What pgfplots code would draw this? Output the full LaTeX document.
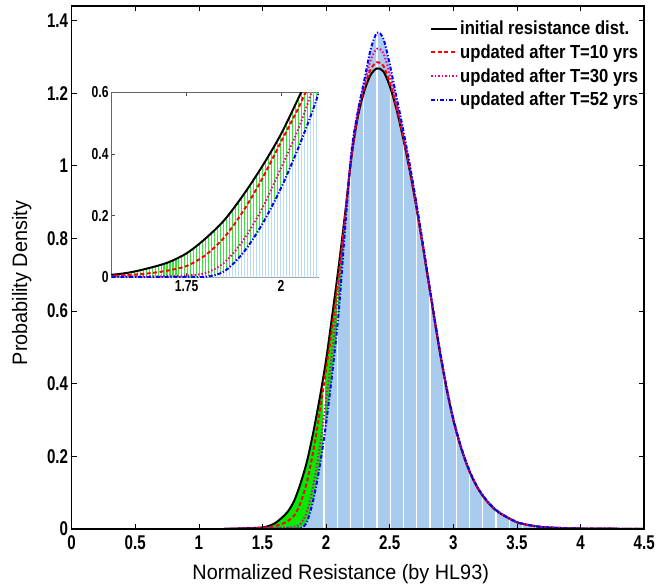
\documentclass[border=0pt]{standalone}
\usepackage{pgfplots}
\pgfplotsset{compat=1.18}
\usepackage{pgfplotstable}
\usetikzlibrary{patterns.meta}
\usepackage{fontspec}
\setmainfont{Liberation Sans}
\newfontfamily\narrowfont[FakeStretch=0.76]{Liberation Sans}
\newfontfamily\legfont[FakeStretch=0.88]{Liberation Sans}
\newfontfamily\labelfont[FakeStretch=0.95]{Liberation Sans}
\definecolor{histblue}{RGB}{169,203,238}
\definecolor{ggreen}{RGB}{0,235,0}
\definecolor{paleblue}{RGB}{185,220,248}
\definecolor{ilgreen}{RGB}{60,225,60}

\pgfplotstableread{
x y
1.20 0.000
1.30 0.001
1.40 0.002
1.50 0.004
1.55 0.008
1.60 0.016
1.65 0.030
1.70 0.048
1.75 0.078
1.80 0.126
1.85 0.186
1.90 0.267
1.95 0.360
2.00 0.465
2.05 0.592
2.10 0.725
2.15 0.870
2.20 1.025
2.25 1.135
2.30 1.205
2.35 1.250
2.40 1.268
2.45 1.260
2.50 1.220
2.55 1.160
2.60 1.085
2.65 1.000
2.70 0.905
2.75 0.800
2.80 0.690
2.85 0.580
2.90 0.475
2.95 0.380
3.00 0.300
3.05 0.235
3.10 0.182
3.15 0.140
3.20 0.107
3.25 0.082
3.30 0.062
3.35 0.047
3.40 0.036
3.50 0.018
3.60 0.010
3.70 0.005
3.80 0.003
4.00 0.001
4.50 0.000
}\blackdata

\pgfplotstableread{
x y
1.20 0.000
1.40 0.001
1.50 0.003
1.55 0.005
1.60 0.008
1.65 0.013
1.70 0.022
1.75 0.037
1.80 0.072
1.85 0.130
1.90 0.215
1.95 0.320
2.00 0.440
2.05 0.560
2.10 0.700
2.15 0.860
2.20 1.028
2.25 1.142
2.30 1.215
2.35 1.265
2.40 1.285
2.45 1.275
2.50 1.230
2.55 1.167
2.60 1.090
2.65 1.004
2.70 0.908
2.75 0.802
2.80 0.692
2.85 0.582
2.90 0.477
2.95 0.381
3.00 0.301
3.05 0.236
3.10 0.183
3.15 0.141
3.20 0.108
3.25 0.083
3.30 0.063
3.35 0.048
3.40 0.036
3.50 0.018
3.60 0.010
3.70 0.005
3.80 0.003
4.00 0.001
4.50 0.000
}\reddata

\pgfplotstableread{
x y
1.20 0.000
1.50 0.002
1.55 0.003
1.60 0.003
1.65 0.003
1.70 0.004
1.75 0.006
1.80 0.014
1.85 0.048
1.90 0.120
1.95 0.224
2.00 0.355
2.05 0.495
2.10 0.670
2.15 0.855
2.20 1.032
2.25 1.150
2.30 1.225
2.35 1.290
2.40 1.322
2.45 1.310
2.50 1.252
2.55 1.178
2.60 1.098
2.65 1.010
2.70 0.912
2.75 0.805
2.80 0.695
2.85 0.584
2.90 0.479
2.95 0.383
3.00 0.302
3.05 0.237
3.10 0.184
3.15 0.142
3.20 0.109
3.25 0.083
3.30 0.063
3.35 0.048
3.40 0.037
3.50 0.019
3.60 0.010
3.70 0.005
3.80 0.003
4.00 0.001
4.50 0.000
}\magdata

\pgfplotstableread{
x y
1.20 0.000
1.55 0.001
1.70 0.001
1.80 0.002
1.85 0.020
1.90 0.080
1.95 0.172
2.00 0.290
2.05 0.433
2.10 0.600
2.15 0.830
2.20 1.040
2.25 1.150
2.30 1.235
2.35 1.320
2.40 1.366
2.45 1.350
2.50 1.280
2.55 1.195
2.60 1.110
2.65 1.018
2.70 0.918
2.75 0.810
2.80 0.698
2.85 0.586
2.90 0.481
2.95 0.385
3.00 0.304
3.05 0.238
3.10 0.185
3.15 0.142
3.20 0.109
3.25 0.084
3.30 0.064
3.35 0.048
3.40 0.037
3.50 0.019
3.60 0.010
3.70 0.005
3.80 0.003
4.00 0.001
4.50 0.000
}\bluedata

\pgfplotstableread{
x y
1.984 1.44
2.088 1.44
2.192 1.44
2.296 1.44
2.400 1.44
2.504 1.44
2.608 1.44
2.712 1.44
2.816 1.44
2.920 1.44
3.024 1.44
3.128 1.44
3.232 1.44
3.336 1.44
3.440 1.44
3.544 1.44
3.648 1.44
3.752 1.44
}\gapdata

\begin{document}
\begin{tikzpicture}
\begin{axis}[
  name=main, at={(0,0)}, anchor=south west,
  width=576pt, height=526pt, scale only axis,
  xmin=0, xmax=4.5, ymin=0, ymax=1.44,
  xtick={0,0.5,1,1.5,2,2.5,3,3.5,4,4.5},
  ytick={0,0.2,0.4,0.6,0.8,1,1.2,1.4},
  tick align=inside, tick pos=both,
  major tick length=5pt,
  axis on top,
  axis line style={line width=1.5pt},
  tick style={black, line width=0.6pt},
  /pgf/number format/assume math mode=true,
  ticklabel style={font=\narrowfont\bfseries\fontsize{20}{20}\selectfont},
  xticklabel style={yshift=-3pt},
  xlabel={Normalized Resistance (by HL93)},
  ylabel={Probability Density},
  xlabel style={font=\labelfont\fontsize{21}{21}\selectfont, at={(axis description cs:0.47,-0.086)}, anchor=center},
  ylabel style={font=\labelfont\fontsize{21}{21}\selectfont, at={(axis description cs:-0.087,0.47)}, anchor=center},
  legend style={at={(1,1)}, anchor=north east, xshift=-3pt, yshift=-12pt, draw=none, fill=none,
    font=\legfont\bfseries\fontsize{19}{19}\selectfont, row sep=4.5pt, inner sep=1pt},
  legend cell align=left,
  legend image code/.code={\draw[#1] (0pt,0pt) -- (26pt,0pt);},
]
\addplot[forget plot, draw=none, fill=ggreen, restrict x to domain=1.2:2.3] table {\blackdata} \closedcycle;
\addplot[forget plot, draw=none, fill=histblue, restrict x to domain=1.75:4.5] table {\bluedata} \closedcycle;
\addplot[forget plot, ycomb, mark=none, white, line width=1.2pt] table {\gapdata};
\addplot[black, line width=2pt, smooth] table {\blackdata};
\addlegendentry{initial resistance dist.}
\addplot[red, line width=2pt, smooth, dash pattern=on 4pt off 2.5pt] table {\reddata};
\addlegendentry{updated after T=10 yrs}
\addplot[magenta, line width=2pt, smooth, dash pattern=on 1.5pt off 2pt] table {\magdata};
\addlegendentry{updated after T=30 yrs}
\addplot[blue, line width=2pt, smooth, dash pattern=on 4pt off 1.8pt on 1.3pt off 1.8pt] table {\bluedata};
\addlegendentry{updated after T=52 yrs}
\end{axis}
\path ([xshift=-72pt]main.south west) ([yshift=6pt]main.north west);

\begin{axis}[
  at={(39.7pt,253pt)}, anchor=south west,
  width=209pt, height=186pt, scale only axis,
  xmin=1.55, xmax=2.1, ymin=0, ymax=0.6,
  xtick={1.75,2}, ytick={0,0.2,0.4,0.6},
  tick align=inside, tick pos=both,
  major tick length=4pt,
  axis background/.style={fill=white},
  axis line style={gray!80!black, line width=0.8pt},
  tick style={black!70, line width=0.6pt},
  /pgf/number format/assume math mode=true,
  ticklabel style={font=\narrowfont\bfseries\fontsize{16}{16}\selectfont},
  yticklabel style={xshift=1pt},
]
\addplot[draw=none, pattern={Lines[angle=90,distance=3pt,line width=1.1pt]}, pattern color=ilgreen, smooth] table {\blackdata} \closedcycle;
\addplot[draw=none, fill=white, smooth] table {\bluedata} \closedcycle;
\addplot[draw=none, pattern={Lines[angle=90,distance=3pt,line width=1.1pt]}, pattern color=paleblue, smooth] table {\bluedata} \closedcycle;
\addplot[black, line width=2pt, smooth] table {\blackdata};
\addplot[red, line width=2pt, smooth, dash pattern=on 4pt off 2.5pt] table {\reddata};
\addplot[magenta, line width=2pt, smooth, dash pattern=on 1.5pt off 2pt] table {\magdata};
\addplot[blue, line width=2pt, smooth, dash pattern=on 4pt off 1.8pt on 1.3pt off 1.8pt] table {\bluedata};
\end{axis}
\end{tikzpicture}
\end{document}
